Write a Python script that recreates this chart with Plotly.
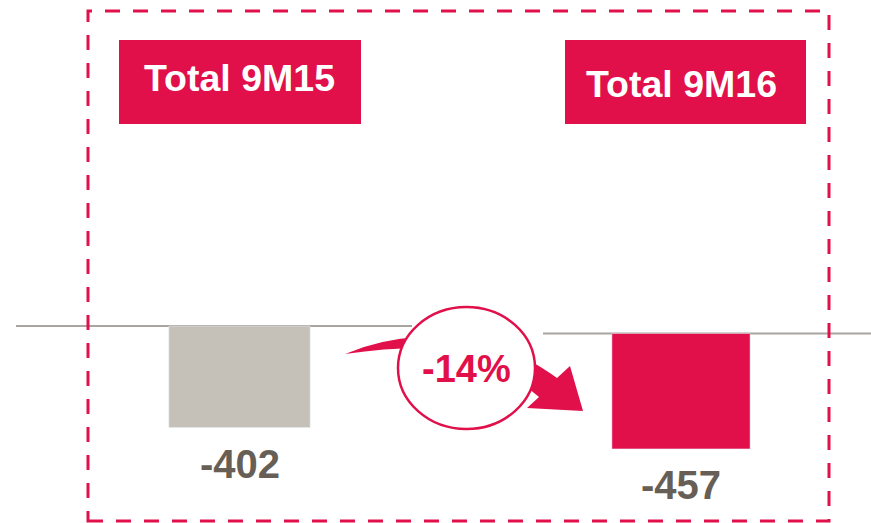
import plotly.graph_objects as go

# ---- data ----
categories = ["Total 9M15", "Total 9M16"]
values = [-402, -457]
value_labels = ["-402", "-457"]
change_label = "-14%"

W, H = 871, 523
CRIMSON = "#E1104A"
GREY_BAR = "#C5C1B9"
TEXT_GREY = "#675E55"
LINE_GREY = "#A8A5A0"
FONT = "Liberation Sans, Arial, sans-serif"


def px(x):
    return x / W


def py(y):
    return 1 - y / H


fig = go.Figure()
fig.add_trace(go.Bar(x=[0], y=[values[0]], width=[0.32], marker_color=GREY_BAR,
                     xaxis="x", yaxis="y", hoverinfo="skip", showlegend=False))
fig.add_trace(go.Bar(x=[1], y=[values[1]], width=[0.313], marker_color=CRIMSON,
                     xaxis="x", yaxis="y2", hoverinfo="skip", showlegend=False))

scale = 0.2525  # px per unit
base1, base2 = 326.0, 333.5
x_unit = 441.5
x0_px = 239.5

shapes = []
# baselines
shapes.append(dict(type="line", xref="paper", yref="y", x0=px(16), x1=px(412), y0=0, y1=0,
                   line=dict(color=LINE_GREY, width=2), layer="below"))
shapes.append(dict(type="line", xref="paper", yref="y2", x0=px(543), x1=1, y0=0, y1=0,
                   line=dict(color=LINE_GREY, width=2), layer="below"))

# dashed frame
shapes.append(dict(type="rect", xref="paper", yref="paper", x0=px(88), x1=px(829),
                   y0=py(521), y1=py(11), line=dict(color=CRIMSON, width=3, dash="15px,13px")))

# title boxes
shapes.append(dict(type="rect", xref="paper", yref="paper", x0=px(119), x1=px(361),
                   y0=py(124), y1=py(40), fillcolor=CRIMSON, line=dict(width=0)))
shapes.append(dict(type="rect", xref="paper", yref="paper", x0=px(565), x1=px(806),
                   y0=py(124), y1=py(40), fillcolor=CRIMSON, line=dict(width=0)))

# curved arrow (pixel coords converted to paper)
pts = [
    ("M", [(345, 354)]),
    ("Q", [(380, 339), (420, 337)]),
    ("C", [(480, 337), (522, 352), (557, 378)]),
    ("L", [(570, 366)]),
    ("L", [(583, 411)]),
    ("L", [(527, 408)]),
    ("L", [(539, 397)]),
    ("C", [(505, 368), (460, 349), (420, 348)]),
    ("Q", [(385, 348), (345, 354)]),
]
path = ""
for cmd, ps in pts:
    path += cmd + " " + " ".join(f"{px(a):.5f},{py(b):.5f}" for a, b in ps) + " "
path += "Z"
shapes.append(dict(type="path", xref="paper", yref="paper", path=path,
                   fillcolor=CRIMSON, line=dict(width=0)))

# ellipse
shapes.append(dict(type="circle", xref="paper", yref="paper", x0=px(398), x1=px(535),
                   y0=py(429), y1=py(307), fillcolor="white",
                   line=dict(color=CRIMSON, width=2.5)))

annotations = [
    dict(text=f"<b>{categories[0]}</b>", xref="paper", yref="paper", x=px(240), y=py(78),
         showarrow=False, font=dict(family=FONT, size=37.5, color="white"),
         xanchor="center", yanchor="middle"),
    dict(text=f"<b>{categories[1]}</b>", xref="paper", yref="paper", x=px(681), y=py(84),
         showarrow=False, font=dict(family=FONT, size=37.5, color="white"),
         xanchor="center", yanchor="middle"),
    dict(text=f"<b>{value_labels[0]}</b>", xref="x", yref="y", x=0, y=values[0], yshift=-36,
         showarrow=False, font=dict(family=FONT, size=40, color=TEXT_GREY),
         xanchor="center", yanchor="middle"),
    dict(text=f"<b>{value_labels[1]}</b>", xref="x", yref="y2", x=1, y=values[1], yshift=-36,
         showarrow=False, font=dict(family=FONT, size=40, color=TEXT_GREY),
         xanchor="center", yanchor="middle"),
    dict(text=f"<b>{change_label}</b>", xref="paper", yref="paper", x=px(466), y=py(369),
         showarrow=False, font=dict(family=FONT, size=38, color=CRIMSON),
         xanchor="center", yanchor="middle"),
]

fig.update_layout(
    width=W, height=H,
    margin=dict(l=0, r=0, t=0, b=0),
    paper_bgcolor="white", plot_bgcolor="white",
    barmode="overlay",
    xaxis=dict(range=[-x0_px / x_unit, (W - x0_px) / x_unit], visible=False, domain=[0, 1]),
    yaxis=dict(range=[-(H - base1) / scale, base1 / scale], visible=False, domain=[0, 1]),
    yaxis2=dict(range=[-(H - base2) / scale, base2 / scale], visible=False,
                overlaying="y", domain=[0, 1]),
    shapes=shapes,
    annotations=annotations,
    showlegend=False,
)

fig.write_html(
    "out.html",
    config={"displayModeBar": False},
    post_script="document.body.style.margin='0';document.body.style.overflow='hidden';",
)
